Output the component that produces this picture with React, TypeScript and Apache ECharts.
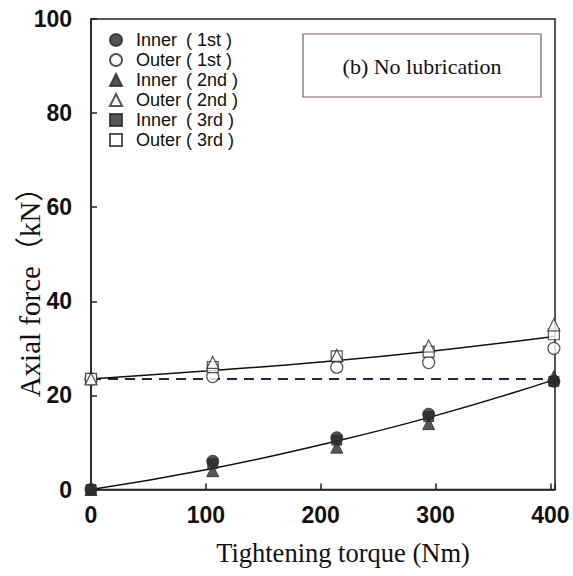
import React, { useEffect, useRef } from "react";
import * as echarts from "echarts";

const torque = [0, 106, 214, 294, 403];
const innerFirst = [0, 6, 11, 16, 23];
const outerFirst = [23.5, 24, 26, 27, 30];
const innerSecond = [0, 4, 9, 14, 24];
const outerSecond = [23.5, 27, 28.5, 30.5, 35];
const innerThird = [0, 5.5, 10.5, 15.5, 23];
const outerThird = [23.5, 26, 28.3, 29.3, 33];

const fitTorque = [0, 100, 200, 300, 403];
const innerFit = [0, 4.2, 9.5, 15.7, 23.3];
const outerFit = [23.5, 25.2, 27.1, 29.5, 32.5];
const refTorque = [0, 403];
const refLevel = [23.5, 23.5];

const xTicks = [0, 100, 200, 300, 400];
const yTicks = [0, 20, 40, 60, 80, 100];

const legendNames = [
  "Inner\u2002( 1st )",
  "Outer ( 1st )",
  "Inner\u2002( 2nd )",
  "Outer ( 2nd )",
  "Inner\u2002( 3rd )",
  "Outer ( 3rd )",
];

const DARK = "#2a2a2a";

function pts(xs: number[], ys: number[]) {
  return xs.map((x, i) => [x, ys[i]]);
}

export default function App() {
  const ref = useRef<HTMLDivElement>(null);
  useEffect(() => {
    if (!ref.current) return;
    const chart = echarts.init(ref.current, null, { renderer: "svg" });
    const filled = { color: DARK, borderColor: DARK, borderWidth: 1 };
    const hollow = { color: "#ffffff", borderColor: DARK, borderWidth: 1.2 };
    const scatter = (name: string, data: number[], symbol: string, size: number, style: any) => ({
      type: "scatter",
      name,
      data: pts(torque, data),
      symbol,
      symbolSize: size,
      itemStyle: style,
      z: 5,
    });
    chart.setOption({
      animation: false,
      grid: {
        left: 91,
        right: 18,
        top: 19,
        bottom: 86.5,
        show: true,
        borderColor: "#222",
        borderWidth: 1.5,
        backgroundColor: "transparent",
      },
      xAxis: {
        type: "value",
        min: 0,
        max: 404,
        interval: 100,
        axisLine: { show: true, lineStyle: { color: "#222", width: 1.5 } },
        axisTick: { show: true, inside: true, length: 6, lineStyle: { color: "#222", width: 1.5 } },
        splitLine: { show: false },
        axisLabel: {
          margin: 14,
          fontFamily: "Liberation Sans, Arial, sans-serif",
          fontWeight: "bold",
          fontSize: 23,
          color: "#111",
          formatter: (v: number) => (xTicks.includes(v) ? String(v) : ""),
        },
      },
      yAxis: {
        type: "value",
        min: 0,
        max: 100,
        interval: 20,
        axisLine: { show: true, lineStyle: { color: "#222", width: 1.5 } },
        axisTick: { show: true, inside: true, length: 6, lineStyle: { color: "#222", width: 1.5 } },
        splitLine: { show: false },
        axisLabel: {
          margin: 19,
          fontFamily: "Liberation Sans, Arial, sans-serif",
          fontWeight: "bold",
          fontSize: 23,
          color: "#111",
          formatter: (v: number) => (yTicks.includes(v) ? String(v) : ""),
        },
      },
      legend: {
        orient: "vertical",
        left: 109,
        top: 31,
        padding: 0,
        itemWidth: 12,
        itemHeight: 12,
        itemGap: 2,
        data: [
          { name: legendNames[0], icon: "circle" },
          { name: legendNames[1], icon: "circle" },
          { name: legendNames[2], icon: "triangle" },
          { name: legendNames[3], icon: "triangle" },
          { name: legendNames[4], icon: "rect" },
          { name: legendNames[5], icon: "rect" },
        ],
        textStyle: {
          fontFamily: "Liberation Sans, Arial, sans-serif",
          fontSize: 18,
          color: "#111",
          lineHeight: 17.7,
          padding: [0, 0, 0, 9],
        },
      },
      graphic: [
        {
          type: "rect",
          shape: { x: 303, y: 34, width: 238, height: 63 },
          style: { fill: "#fff", stroke: "#7a5a6e", lineWidth: 1.2 },
          z: 10,
        },
        {
          type: "text",
          x: 422,
          y: 66,
          style: {
            text: "(b) No lubrication",
            font: "22px 'Liberation Serif', 'Times New Roman', serif",
            fill: "#111",
            textAlign: "center",
            textVerticalAlign: "middle",
          },
          z: 11,
        },
        {
          type: "text",
          x: 343,
          y: 553,
          style: {
            text: "Tightening torque (Nm)",
            font: "26.5px 'Liberation Serif', 'Times New Roman', serif",
            fill: "#111",
            textAlign: "center",
            textVerticalAlign: "middle",
          },
        },
        {
          type: "text",
          x: 30,
          y: 285,
          rotation: Math.PI / 2,
          style: {
            text: "Axial force\uFF08kN\uFF09",
            font: "29px 'Liberation Serif', 'Times New Roman', 'Noto Sans CJK JP', serif",
            fill: "#111",
            textAlign: "center",
            textVerticalAlign: "middle",
          },
        },
      ],
      series: [
        {
          type: "line",
          name: "innerFit",
          data: pts(fitTorque, innerFit),
          smooth: true,
          showSymbol: false,
          lineStyle: { color: "#111", width: 1.5 },
          z: 3,
        },
        {
          type: "line",
          name: "outerFit",
          data: pts(fitTorque, outerFit),
          smooth: true,
          showSymbol: false,
          lineStyle: { color: "#111", width: 1.5 },
          z: 3,
        },
        {
          type: "line",
          name: "ref",
          data: pts(refTorque, refLevel),
          showSymbol: false,
          lineStyle: { color: "#1c2c48", width: 2, type: [10, 7] },
          z: 2,
        },
        scatter(legendNames[4], innerThird, "rect", 10, filled),
        scatter(legendNames[0], innerFirst, "circle", 12, filled),
        scatter(legendNames[2], innerSecond, "triangle", 12, filled),
        scatter(legendNames[1], outerFirst, "circle", 12, hollow),
        scatter(legendNames[5], outerThird, "rect", 11, hollow),
        scatter(legendNames[3], outerSecond, "triangle", 12, hollow),
      ],
    });
    return () => chart.dispose();
  }, []);
  return <div ref={ref} style={{ width: 573, height: 576, position: "absolute", left: 0, top: 0 }} />;
}
